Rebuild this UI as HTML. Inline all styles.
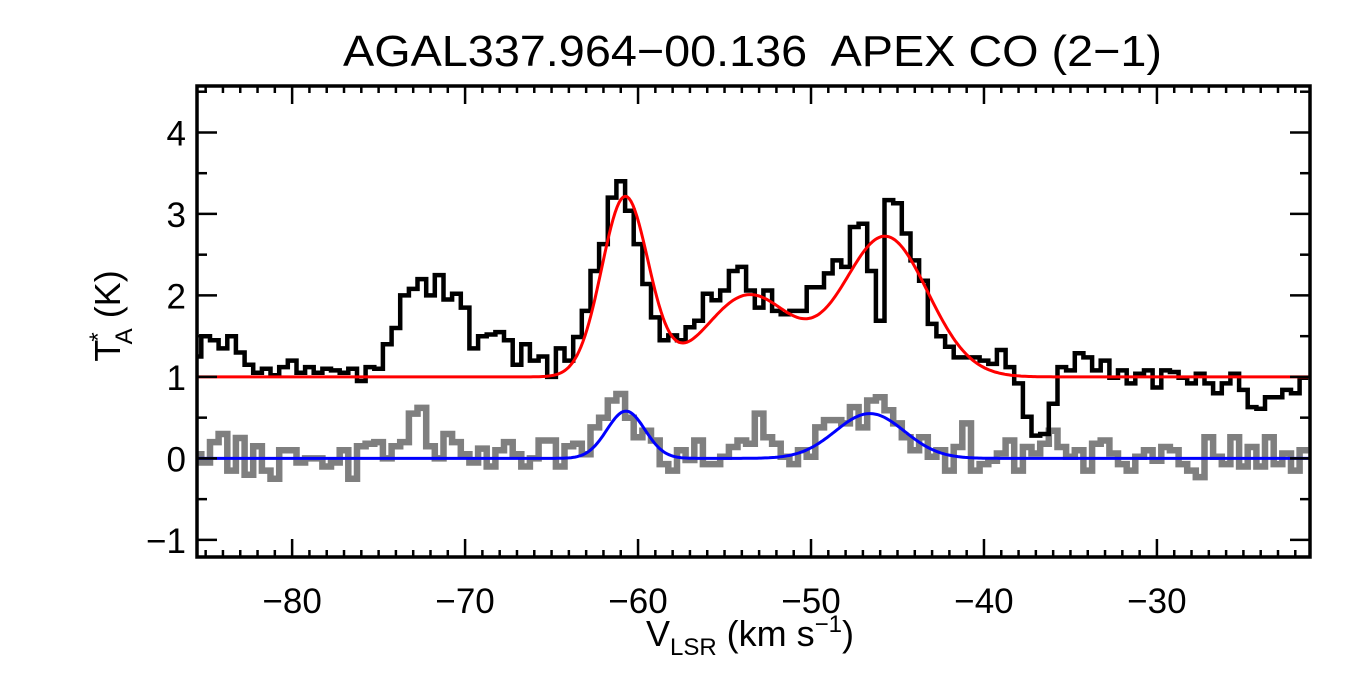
<!DOCTYPE html>
<html><head><meta charset="utf-8">
<style>
html,body{margin:0;padding:0;background:#fff;}
svg{display:block;font-family:"Liberation Sans",Arial,sans-serif;}
</style></head>
<body>
<svg id="chart" width="1350" height="675" viewBox="0 0 1350 675" xmlns="http://www.w3.org/2000/svg">
<text x="343" y="66" font-size="44" textLength="819" lengthAdjust="spacingAndGlyphs" xml:space="preserve">AGAL337.964−00.136  APEX CO (2−1)</text>
<g id="series"></g>
<g id="axes"></g>
<text transform="translate(120,316) rotate(-90)" font-size="36" text-anchor="middle">T<tspan font-size="24" dy="-14" dx="-2">*</tspan><tspan font-size="24" dy="26" dx="-12">A</tspan><tspan dy="-12"> (K)</tspan></text>
<text x="750" y="646" font-size="36" text-anchor="middle">V<tspan font-size="24" dy="9">LSR</tspan><tspan dy="-9"> (km s</tspan><tspan font-size="24" dy="-14">−1</tspan><tspan dy="14">)</tspan></text>
</svg>
<script>
const vStart = -85.5;
const vStep = 0.5;
const coSpectrum = [1.25,1.5,1.45,1.35,1.5,1.3,1.15,1.05,1.1,1.02,1.12,1.2,1.05,1.12,1.05,1.1,1.08,1.05,1.1,0.95,1.12,1.1,1.4,1.6,2.0,2.08,2.2,2.0,2.25,1.95,2.02,1.85,1.35,1.5,1.52,1.55,1.45,1.15,1.4,1.2,1.25,1.0,1.35,1.2,
1.49,1.81,2.3,2.63,3.2,3.4,3.04,2.63,2.14,1.73,1.45,1.51,1.45,1.61,1.69,2.02,1.94,2.06,2.3,2.35,2.06,1.85,2.06,1.81,1.77,1.81,1.81,2.1,2.1,2.27,2.43,2.35,2.84,2.88,2.3,1.69,3.17,3.13,2.76,2.43,2.18,1.65,
1.5,1.37,1.24,1.24,1.24,1.2,1.16,1.33,1.12,0.92,0.51,0.28,0.3,0.67,1.12,1.08,1.29,1.24,1.08,1.2,0.99,1.08,0.92,1.04,1.08,0.87,1.08,1.06,0.99,0.92,1.04,0.92,0.8,0.92,1.04,0.84,0.63,0.61,0.75,0.75,0.84,0.8,0.99];
const residSpectrum = [0.05,-0.05,0.2,0.3,-0.15,0.25,-0.2,0.15,-0.15,-0.25,0.1,0.1,-0.05,0.0,0.0,-0.1,-0.05,0.1,-0.25,0.15,0.18,0.2,0.0,0.15,0.2,0.55,0.62,0.15,0.0,0.3,0.2,0.05,-0.05,0.12,-0.1,0.1,0.2,0.05,-0.1,0.0,0.22,0.22,-0.1,0.15,
0.18,0.05,0.38,0.5,0.71,0.79,0.5,0.26,0.34,0.22,-0.07,-0.15,0.1,-0.02,0.22,-0.07,-0.07,0.02,0.14,0.22,0.18,0.55,0.26,0.18,0.02,-0.07,0.1,0.02,0.38,0.47,0.47,0.43,0.63,0.38,0.71,0.75,0.59,0.43,0.26,0.1,0.26,0.02,
0.1,-0.15,0.14,0.43,-0.15,-0.07,-0.03,0.06,0.22,-0.15,0.14,0.06,0.18,0.34,0.14,0.02,0.1,-0.15,0.18,0.22,0.06,-0.07,-0.15,0.02,0.1,-0.03,0.14,0.1,-0.07,-0.15,-0.23,0.26,0.02,-0.07,0.26,-0.1,0.14,-0.1,0.26,-0.07,0.06,-0.15,0.1];
const redBase = 1.0;
const redAmps = [2.2,1.0,1.72];
const redCenters = [-60.75,-53.6,-45.7];
const redSigmas = [1.35,2.5,2.45];
const blueBase = 0.0;
const blueAmps = [0.58,0.55];
const blueCenters = [-60.7,-46.6];
const blueSigmas = [1.1,2.0];
const xTicks = [-80,-70,-60,-50,-40,-30];
const yTicks = [-1,0,1,2,3,4];

const L=197,R=1310,T=86,B=557;
const xMin=-85.5, xMax=-21.15, yMin=-1.21, yMax=4.57;
const X=v=>L+(v-xMin)/(xMax-xMin)*(R-L);
const Y=t=>B-(t-yMin)/(yMax-yMin)*(B-T);
const NS="http://www.w3.org/2000/svg";
function mk(tag,attrs,parent){const e=document.createElementNS(NS,tag);for(const k in attrs)e.setAttribute(k,attrs[k]);parent.appendChild(e);return e;}
const series=document.getElementById('series');
const axes=document.getElementById('axes');
const clip=mk('clipPath',{id:'clip'},series);
mk('rect',{x:L,y:T,width:R-L,height:B-T},clip);

function stepPath(arr){
  let d='';
  arr.forEach((t,i)=>{
    const v=vStart+i*vStep;
    const x0=X(v-vStep/2),x1=X(v+vStep/2),y=Y(t);
    d+=(i===0?'M':'L')+x0.toFixed(1)+','+y.toFixed(1)+'L'+x1.toFixed(1)+','+y.toFixed(1);
  });
  return d;
}
function gaussPath(base,amps,cents,sigs){
  let d='';
  for(let px=L;px<=R;px+=2){
    const v=xMin+(px-L)/(R-L)*(xMax-xMin);
    let t=base;
    for(let k=0;k<amps.length;k++)t+=amps[k]*Math.exp(-Math.pow(v-cents[k],2)/(2*sigs[k]*sigs[k]));
    d+=(px===L?'M':'L')+px+','+Y(t).toFixed(1);
  }
  return d;
}
const g=mk('g',{'clip-path':'url(#clip)'},series);
const resid=mk('path',{d:stepPath(residSpectrum),fill:'none',stroke:'#7f7f7f','stroke-width':6.5},g);


const co=mk('path',{d:stepPath(coSpectrum),fill:'none',stroke:'#000','stroke-width':4.5},g);


const rf=mk('path',{d:gaussPath(redBase,redAmps,redCenters,redSigmas),fill:'none',stroke:'#ff0000','stroke-width':3},g);


const bf=mk('path',{d:gaussPath(blueBase,blueAmps,blueCenters,blueSigmas),fill:'none',stroke:'#0000ff','stroke-width':3},g);



const fr=mk('rect',{x:L,y:T,width:R-L,height:B-T,fill:'none',stroke:'#000','stroke-width':3.5},axes);


for(let v=Math.ceil(xMin);v<=xMax;v++){
  const major=v%10===0;const len=major?18:7;const x=X(v);
  mk('line',{x1:x,y1:B,x2:x,y2:B-len,stroke:'#000','stroke-width':2.5},axes);
  mk('line',{x1:x,y1:T,x2:x,y2:T+len,stroke:'#000','stroke-width':2.5},axes);
}
xTicks.forEach(v=>{
  const t=mk('text',{x:X(v),y:613,'font-size':35,'text-anchor':'middle'},axes);
  t.textContent='−'+Math.abs(v);
  
  
});
for(let t=-1;t<=4.5;t+=0.5){
  const major=Math.abs(t-Math.round(t))<1e-6;const len=major?20:10;const y=Y(t);
  mk('line',{x1:L,y1:y,x2:L+len,y2:y,stroke:'#000','stroke-width':2.5},axes);
  mk('line',{x1:R,y1:y,x2:R-len,y2:y,stroke:'#000','stroke-width':2.5},axes);
}
yTicks.forEach(t=>{
  const e=mk('text',{x:t<0?186:186,y:Y(t)+13,'font-size':35,'text-anchor':'end'},axes);
  e.textContent=t<0?'−'+Math.abs(t):String(t);
  
  
});
</script>
</body></html>
